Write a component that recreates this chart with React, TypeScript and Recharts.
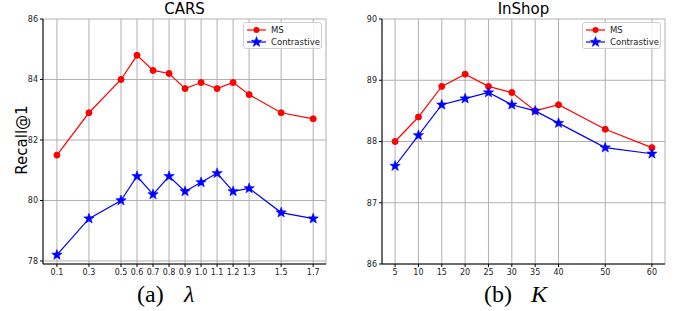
import React from 'react';
import { LineChart, Line, XAxis, YAxis, CartesianGrid, ReferenceArea } from 'recharts';

// CARS, lambda sweep
const lambdas = [0.1, 0.3, 0.5, 0.6, 0.7, 0.8, 0.9, 1.0, 1.1, 1.2, 1.3, 1.5, 1.7];
const carsMS = [81.5, 82.9, 84.0, 84.8, 84.3, 84.2, 83.7, 83.9, 83.7, 83.9, 83.5, 82.9, 82.7];
const carsContrastive = [78.2, 79.4, 80.0, 80.8, 80.2, 80.8, 80.3, 80.6, 80.9, 80.3, 80.4, 79.6, 79.4];
const carsYTicks = [78, 80, 82, 84, 86];

// InShop, K sweep
const ks = [5, 10, 15, 20, 25, 30, 35, 40, 50, 60];
const shopMS = [88.0, 88.4, 88.9, 89.1, 88.9, 88.8, 88.5, 88.6, 88.2, 87.9];
const shopContrastive = [87.6, 88.1, 88.6, 88.7, 88.8, 88.6, 88.5, 88.3, 87.9, 87.8];
const shopYTicks = [86, 87, 88, 89, 90];

const carsData = lambdas.map((x, i) => ({ x, ms: carsMS[i], con: carsContrastive[i] }));
const shopData = ks.map((x, i) => ({ x, ms: shopMS[i], con: shopContrastive[i] }));

const FONT = '"DejaVu Sans", sans-serif';
const SERIF = '"Liberation Serif", serif';
const tickStyle = { fontSize: 8, fill: '#222', fontFamily: FONT };

const Star = (props: any) => {
  const { cx, cy } = props;
  if (cx == null || cy == null) return null;
  const pts: string[] = [];
  for (let i = 0; i < 10; i++) {
    const r = i % 2 === 0 ? 5.5 : 2.3;
    const a = -Math.PI / 2 + (i * Math.PI) / 5;
    pts.push(`${cx + r * Math.cos(a)},${cy + r * Math.sin(a)}`);
  }
  return <polygon points={pts.join(' ')} fill="#0000ff" stroke="#0000ff" strokeWidth={0.5} />;
};

const Dot = (props: any) => {
  const { cx, cy } = props;
  if (cx == null || cy == null) return null;
  return <circle cx={cx} cy={cy} r={3} fill="#ff0000" stroke="#ff0000" />;
};

const LegendBox = ({ left }: { left: number }) => (
  <div style={{
    position: 'absolute', left, top: 22, width: 79, height: 27, boxSizing: 'border-box',
    border: '1px solid #d0d0d0', borderRadius: 3, background: 'rgba(255,255,255,0.8)',
    padding: '1px 3px', fontFamily: FONT, fontSize: 8.5, color: '#222', lineHeight: '12px',
  }}>
    <div style={{ display: 'flex', alignItems: 'center', height: 12 }}>
      <svg width={19} height={12} style={{ overflow: 'visible' }}>
        <line x1={0} y1={6} x2={19} y2={6} stroke="#ff0000" strokeWidth={1.2} />
        <circle cx={9.5} cy={6} r={3} fill="#ff0000" />
      </svg>
      <span style={{ marginLeft: 5 }}>MS</span>
    </div>
    <div style={{ display: 'flex', alignItems: 'center', height: 12 }}>
      <svg width={19} height={12} style={{ overflow: 'visible' }}>
        <line x1={0} y1={6} x2={19} y2={6} stroke="#0000ff" strokeWidth={1.2} />
        <Star cx={9.5} cy={6} />
      </svg>
      <span style={{ marginLeft: 5 }}>Contrastive</span>
    </div>
  </div>
);

interface PanelProps {
  data: { x: number; ms: number; con: number }[];
  xDomain: [number, number];
  xTicks: number[];
  yDomain: [number, number];
  yTicks: number[];
  fmt: (v: number) => string;
}

const Panel: React.FC<PanelProps> = ({ data, xDomain, xTicks, yDomain, yTicks, fmt }) => (
  <LineChart width={340} height={311} data={data} margin={{ top: 19, right: 14, left: 3, bottom: 17 }}>
    <CartesianGrid stroke="#b0b0b0" strokeWidth={1} />
    <XAxis
      dataKey="x" type="number" domain={xDomain} ticks={xTicks} allowDataOverflow
      tickFormatter={fmt} tick={tickStyle} tickSize={3} height={30} interval={0}
      axisLine={{ stroke: '#000' }} tickLine={{ stroke: '#000' }}
    />
    <YAxis
      type="number" domain={yDomain} ticks={yTicks} allowDataOverflow
      tick={tickStyle} tickSize={3} width={40} interval={0}
      axisLine={{ stroke: '#000' }} tickLine={{ stroke: '#000' }}
    />
    <ReferenceArea fill="none" stroke="#000" strokeWidth={1} ifOverflow="visible" />
    <Line dataKey="ms" stroke="#ff0000" strokeWidth={1.2} dot={<Dot />} isAnimationActive={false} />
    <Line dataKey="con" stroke="#0000ff" strokeWidth={1.2} dot={<Star />} isAnimationActive={false} />
  </LineChart>
);

const captionStyle: React.CSSProperties = { position: 'absolute', top: 281, fontFamily: SERIF, fontSize: 24, whiteSpace: 'pre' };

export default function App() {
  return (
    <div style={{ position: 'absolute', left: 0, top: 0, width: 681, height: 311, background: '#fff', overflow: 'hidden' }}>
      <div style={{ position: 'absolute', left: 0, top: 0 }}>
        <Panel data={carsData} xDomain={[0.013, 1.78]} xTicks={lambdas} yDomain={[77.9, 86]}
          yTicks={carsYTicks} fmt={(v) => v.toFixed(1)} />
      </div>
      <div style={{ position: 'absolute', left: 339, top: 0 }}>
        <Panel data={shopData} xDomain={[2.2, 62.8]} xTicks={ks} yDomain={[86, 90]}
          yTicks={shopYTicks} fmt={(v) => String(v)} />
      </div>
      <LegendBox left={243} />
      <LegendBox left={582} />
      <div style={{ position: 'absolute', left: 43, width: 283, top: 0, textAlign: 'center', fontFamily: FONT, fontSize: 15 }}>CARS</div>
      <div style={{ position: 'absolute', left: 382, width: 283, top: 0, textAlign: 'center', fontFamily: FONT, fontSize: 15 }}>InShop</div>
      <div style={{
        position: 'absolute', left: 22, top: 140, transform: 'translate(-50%, -50%) rotate(-90deg)',
        fontFamily: FONT, fontSize: 15, whiteSpace: 'nowrap',
      }}>Recall@1</div>
      <div style={{ ...captionStyle, left: 137 }}>(a)</div>
      <div style={{ ...captionStyle, left: 184 }}><i>λ</i></div>
      <div style={{ ...captionStyle, left: 484 }}>(b)</div>
      <div style={{ ...captionStyle, left: 531 }}><i>K</i></div>
    </div>
  );
}
